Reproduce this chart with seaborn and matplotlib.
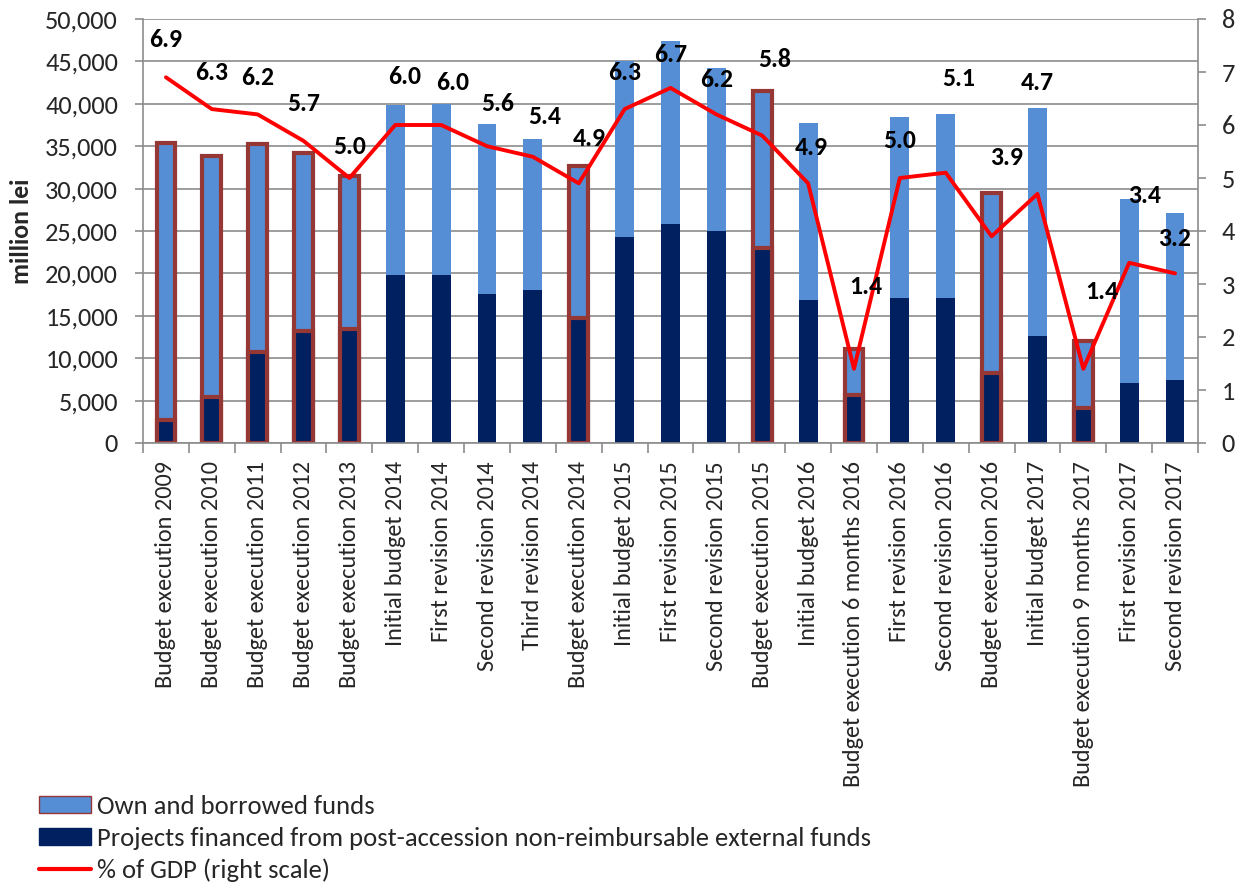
# Public investment expenditure: stacked bars + % of GDP line (right scale)
import numpy as np
import pandas as pd
import matplotlib.pyplot as plt
import seaborn as sns
from matplotlib.patches import Patch
from matplotlib.lines import Line2D
from matplotlib.ticker import FuncFormatter

# data
categories = [
    "Budget execution 2009", "Budget execution 2010", "Budget execution 2011",
    "Budget execution 2012", "Budget execution 2013", "Initial budget 2014",
    "First revision 2014", "Second revision 2014", "Third revision 2014",
    "Budget execution 2014", "Initial budget 2015", "First revision 2015",
    "Second revision 2015", "Budget execution 2015", "Initial budget 2016",
    "Budget execution 6 months 2016", "First revision 2016", "Second revision 2016",
    "Budget execution 2016", "Initial budget 2017", "Budget execution 9 months 2017",
    "First revision 2017", "Second revision 2017",
]
external_funds = [2700, 5400, 10700, 13200, 13400, 19800, 19800, 17600, 18000, 14700,
                  24300, 25800, 25000, 23000, 16900, 5700, 17100, 17100, 8300, 12600,
                  4100, 7100, 7400]
own_funds = [32700, 28400, 24600, 21000, 18100, 20100, 20200, 20000, 17800, 18000,
             20700, 21600, 19200, 18500, 20800, 5400, 21300, 21700, 21200, 26900,
             7900, 21700, 19700]
gdp_share = [6.9, 6.3, 6.2, 5.7, 5.0, 6.0, 6.0, 5.6, 5.4, 4.9, 6.3, 6.7, 6.2, 5.8,
             4.9, 1.4, 5.0, 5.1, 3.9, 4.7, 1.4, 3.4, 3.2]

# label placement (pixels relative to the line point), as in the original
label_dx = [0, 0, 0, 0, 0, 9, 11, 11, 12, 11, 0, 0, 0, 12, 3, 12, 0, 13, 15, 0, 18, 15, 0]
label_dy = [38, 37, 37, 37, 32, 48, 42, 43, 40, 45, 37, 33, 35, 76, 36, 82, 38, 94, 79,
            111, 77, 67, 35]

LIGHT = "#558ED5"
DARK = "#002060"
EDGE = "#953735"
GRID = "#8c8c8c"

df = pd.DataFrame({"category": categories, "external": external_funds,
                   "own": own_funds, "gdp": gdp_share})
df["total"] = df["own"] + df["external"]
outlined = df["category"].str.startswith("Budget execution").tolist()
n = len(df)

sns.set_theme(style="white")
plt.rcParams["font.family"] = ["Carlito", "DejaVu Sans"]

fig, ax = plt.subplots(figsize=(12.48, 8.85), dpi=100)
fig.subplots_adjust(left=143 / 1248, right=1198 / 1248, top=1 - 19 / 885, bottom=1 - 443 / 885)

sns.barplot(data=df, x="category", y="total", color=LIGHT, width=0.41,
            saturation=1, errorbar=None, ax=ax)
sns.barplot(data=df, x="category", y="external", color=DARK, width=0.41,
            saturation=1, errorbar=None, ax=ax)

for i, bar in enumerate(ax.patches):
    if outlined[i % n]:
        bar.set_edgecolor(EDGE)
        bar.set_linewidth(3)
    else:
        bar.set_linewidth(0)

ax.set_ylim(0, 50000)
ax.set_yticks(range(0, 50001, 5000))
ax.yaxis.set_major_formatter(FuncFormatter(lambda v, p: f"{int(v):,}"))
ax.yaxis.grid(True, color=GRID, lw=1.2)
ax.set_axisbelow(True)
ax.set_xlabel("")
ax.set_ylabel("million lei", fontsize=18.5, fontweight="bold")
ax.yaxis.set_label_coords(-0.104, 0.5)

ax.set_xticks(np.arange(n + 1) - 0.5, minor=True)
ax.tick_params(axis="x", which="major", length=0, labelsize=17.5, labelrotation=90, pad=13)
ax.tick_params(axis="x", which="minor", length=7, width=1.2, color=GRID, bottom=True)
ax.tick_params(axis="y", which="major", length=6, width=1.2, color=GRID, left=True,
               labelsize=19, pad=12)
for s in ["left", "bottom"]:
    ax.spines[s].set_color(GRID)
    ax.spines[s].set_linewidth(1.2)
ax.spines["top"].set_visible(False)
ax.spines["right"].set_visible(False)

# % of GDP on the right scale
ax2 = ax.twinx()
sns.lineplot(x=np.arange(n), y=df["gdp"].values, color="#FF0000", lw=2.8, ax=ax2)
ax2.set_ylim(0, 8)
ax2.set_yticks(range(0, 9))
ax2.tick_params(axis="y", length=6, width=1.2, color=GRID, right=True, labelsize=19, pad=11)
for s in ["left", "bottom", "top"]:
    ax2.spines[s].set_visible(False)
ax2.spines["right"].set_color(GRID)
ax2.spines["right"].set_linewidth(1.2)
ax2.set_ylabel("")

for i, v in enumerate(gdp_share):
    ax2.annotate(f"{v:.1f}", (i, v), xytext=(label_dx[i], label_dy[i]),
                 textcoords="offset pixels", ha="center", va="center",
                 fontsize=18.5, fontweight="bold", color="black")

ax.set_xlim(-0.5, n - 0.5)

handles = [Patch(facecolor=LIGHT, edgecolor=EDGE, lw=1),
           Patch(facecolor=DARK, edgecolor=DARK),
           Line2D([0], [0], color="#FF0000", lw=3)]
labels = ["Own and borrowed funds",
          "Projects financed from post-accession non-reimbursable external funds",
          "% of GDP (right scale)"]
fig.legend(handles, labels, loc="upper left", bbox_to_anchor=(39 / 1248, 1 - 795 / 885),
           frameon=False, fontsize=19.2, handlelength=1.95, handleheight=0.6,
           handletextpad=0.22, labelspacing=0.33, borderpad=0, borderaxespad=0)

fig.savefig("out.png", dpi=100)
